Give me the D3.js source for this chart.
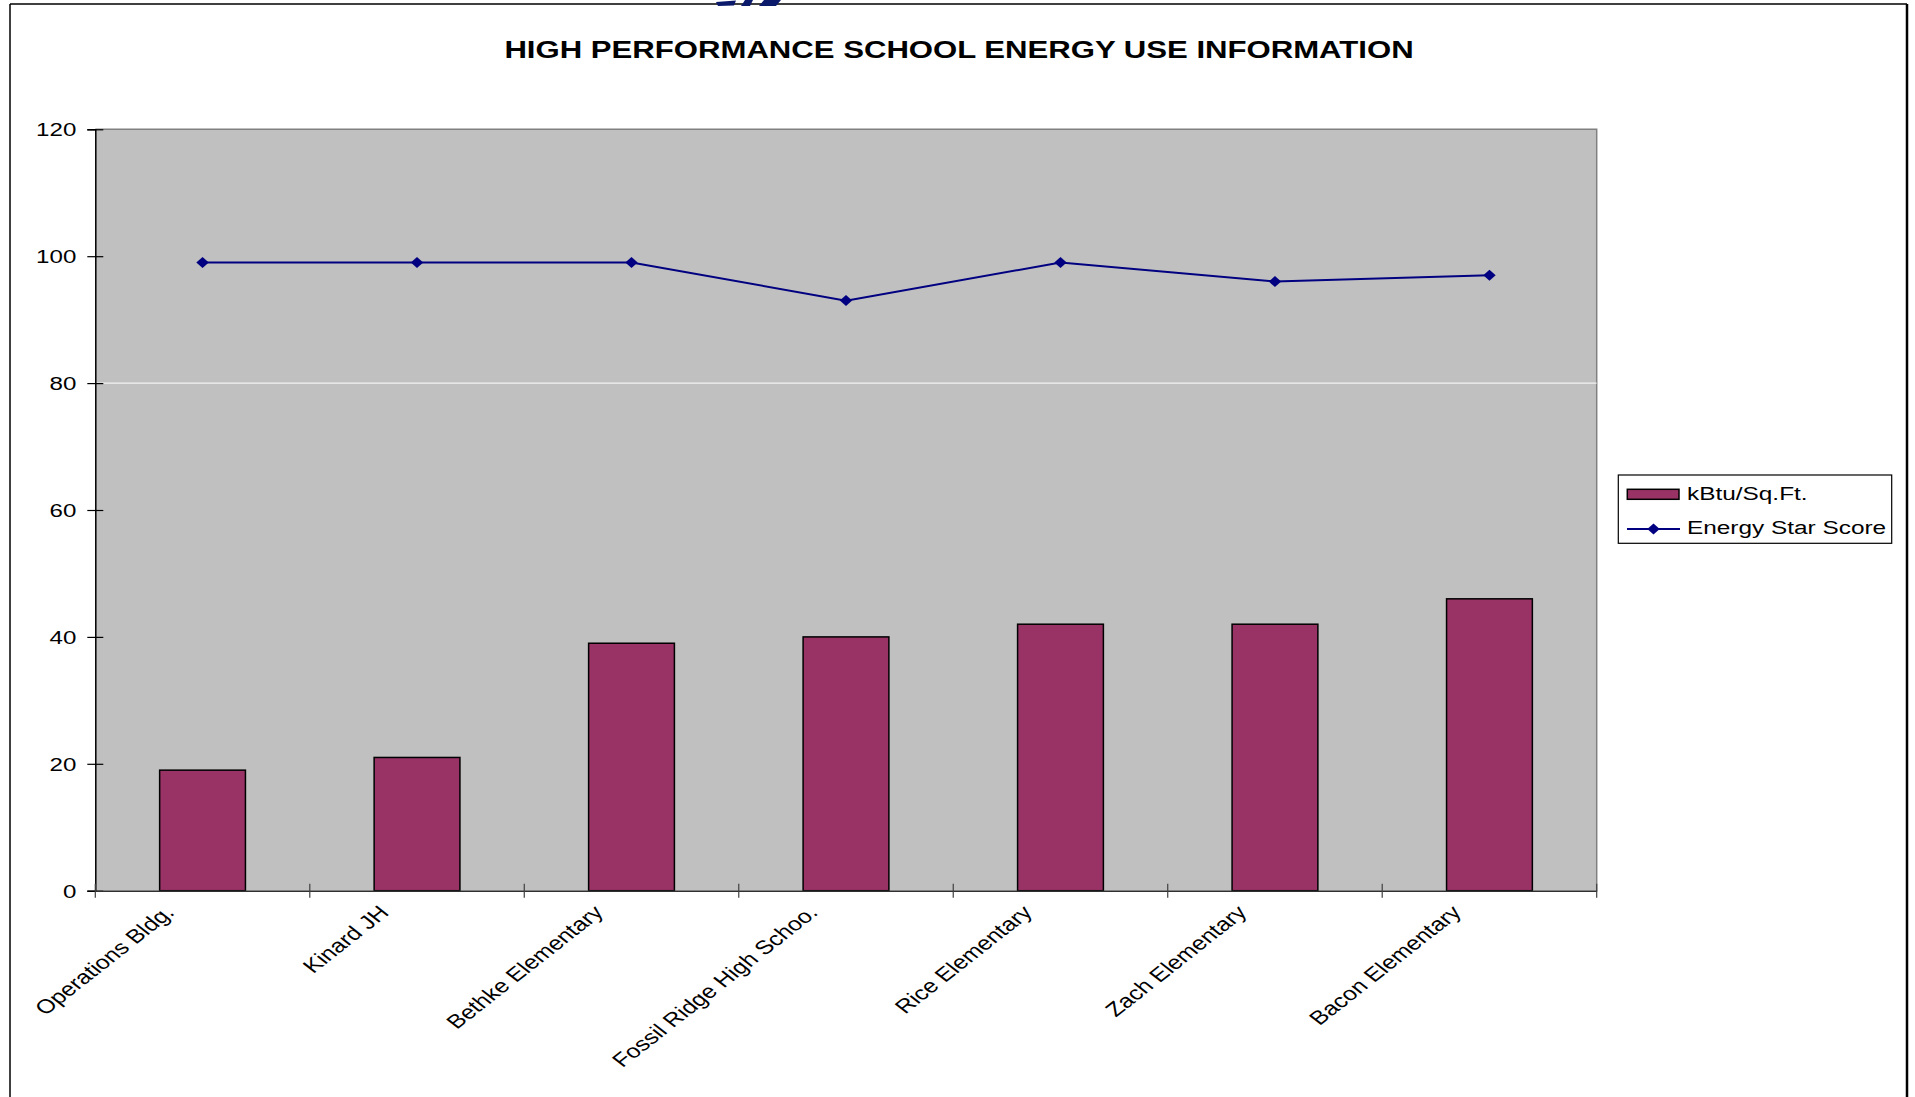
<!DOCTYPE html>
<html>
<head>
<meta charset="utf-8">
<script src="https://cdn.jsdelivr.net/npm/d3@7"></script>
<style>
  html, body { margin: 0; padding: 0; background: #ffffff; }
  svg { display: block; }
  text { font-family: "Liberation Sans", Arial, sans-serif; }
</style>
</head>
<body>
<svg id="chart" width="1915" height="1097"></svg>
<script>
// ---- data ----
const titleText = "HIGH PERFORMANCE SCHOOL ENERGY USE INFORMATION";
const categories = ["Operations Bldg.", "Kinard JH", "Bethke Elementary", "Fossil Ridge High Schoo.",
                    "Rice Elementary", "Zach Elementary", "Bacon Elementary"];
const kbtuValues = [19, 21, 39, 40, 42, 42, 46];
const energyStarValues = [99, 99, 99, 93, 99, 96, 97];
const yTickValues = [0, 20, 40, 60, 80, 100, 120];
const gridValues = [80];
const seriesNames = ["kBtu/Sq.Ft.", "Energy Star Score"];

// ---- layout ----
const W = 1915, H = 1097;
const SX = 1.27; // horizontal stretch of the original picture's text
const plot = { left: 95.3, right: 1596.7, top: 129.3, bottom: 890.7 };
const barColor = "#993366", lineColor = "#000080", plotBg = "#C0C0C0";

const svg = d3.select("#chart");

// outer frame
svg.append("line").attr("x1", 10).attr("x2", 10).attr("y1", 4).attr("y2", H + 5)
  .attr("stroke", "#000").attr("stroke-width", 1.5);
svg.append("line").attr("x1", 10).attr("x2", 1907).attr("y1", 4).attr("y2", 4)
  .attr("stroke", "#000").attr("stroke-width", 1.5);
svg.append("line").attr("x1", 1907).attr("x2", 1907).attr("y1", 4).attr("y2", H + 5)
  .attr("stroke", "#000").attr("stroke-width", 2.5);

// fragment of a logo cut off at the top of the page
const logo = svg.append("g").attr("fill", "#0b1a6b");
logo.append("path").attr("d", "M716,2 L736,0.5 L734,5.5 L718,6 Z");
logo.append("path").attr("d", "M745,0 L753,0 L750,6 L741,6 Z");
logo.append("path").attr("d", "M764,0 L781,0 L776,6 L759,6 Z");

// scales
const x = d3.scaleBand().domain(categories).range([plot.left, plot.right]).padding(0);
const y = d3.scaleLinear().domain([0, 120]).range([plot.bottom, plot.top]);

// plot area
svg.append("rect")
  .attr("x", plot.left).attr("y", plot.top)
  .attr("width", plot.right - plot.left).attr("height", plot.bottom - plot.top)
  .attr("fill", plotBg);
// top/right border of plot area
svg.append("path")
  .attr("d", `M${plot.left},${plot.top} H${plot.right} V${plot.bottom}`)
  .attr("fill", "none").attr("stroke", "#808080").attr("stroke-width", 1.5);

// gridlines
svg.append("g").selectAll("line").data(gridValues).join("line")
  .attr("x1", plot.left).attr("x2", plot.right)
  .attr("y1", d => y(d)).attr("y2", d => y(d))
  .attr("stroke", "#ffffff").attr("stroke-width", 1);

// bars
const barW = x.bandwidth() / 2.5;
svg.append("g").selectAll("rect").data(categories).join("rect")
  .attr("x", d => x(d) + x.bandwidth() / 2 - barW / 2)
  .attr("y", (d, i) => y(kbtuValues[i]))
  .attr("width", barW)
  .attr("height", (d, i) => y(0) - y(kbtuValues[i]))
  .attr("fill", barColor).attr("stroke", "#000").attr("stroke-width", 1.5);

// y axis
const yAxis = svg.append("g")
  .attr("transform", `translate(${plot.left},0)`)
  .call(d3.axisLeft(y).tickValues(yTickValues).tickSize(8).tickPadding(0));
yAxis.select(".domain").attr("stroke", "#000").attr("stroke-width", 1.5);
yAxis.selectAll(".tick line").attr("x1", -8).attr("x2", 8).attr("stroke", "#000").attr("stroke-width", 1.2);
yAxis.selectAll(".tick text")
  .attr("font-size", 19).attr("fill", "#000")
  .attr("font-family", "Liberation Sans, Arial, sans-serif")
  .attr("x", -19 / SX).attr("dy", "0.35em")
  .attr("transform", `scale(${SX},1)`);

// x axis
const xAxis = svg.append("g")
  .attr("transform", `translate(0,${plot.bottom})`)
  .call(d3.axisBottom(x).tickSize(0).tickFormat(""));
xAxis.select(".domain").attr("stroke", "#303030").attr("stroke-width", 1.5);
const boundaries = categories.map(c => x(c)).concat([x.range()[1]]);
svg.append("g").selectAll("line").data(boundaries).join("line")
  .attr("x1", d => d).attr("x2", d => d)
  .attr("y1", plot.bottom - 7).attr("y2", plot.bottom + 7)
  .attr("stroke", "#404040").attr("stroke-width", 1.2);
svg.append("g").selectAll("text").data(categories).join("text")
  .attr("transform", d => `translate(${x(d) + x.bandwidth() / 2 - 27},${plot.bottom + 23}) scale(${SX},1) rotate(-45)`)
  .attr("text-anchor", "end")
  .attr("font-size", 19.5).attr("fill", "#000")
  .text(d => d);

// line series
const lineGen = d3.line()
  .x((d, i) => x(categories[i]) + x.bandwidth() / 2)
  .y(d => y(d));
svg.append("path").datum(energyStarValues)
  .attr("d", lineGen).attr("fill", "none")
  .attr("stroke", lineColor).attr("stroke-width", 2);
const diamond = "M0,-5.5 L6.2,0 L0,5.5 L-6.2,0 Z";
svg.append("g").selectAll("path").data(energyStarValues).join("path")
  .attr("transform", (d, i) => `translate(${x(categories[i]) + x.bandwidth() / 2},${y(d)})`)
  .attr("d", diamond).attr("fill", lineColor);

// title
svg.append("text")
  .attr("transform", `translate(959,57.7) scale(${SX},1)`)
  .attr("text-anchor", "middle")
  .attr("font-size", 24.5).attr("font-weight", "bold").attr("fill", "#000")
  .text(titleText);

// legend
const leg = svg.append("g");
leg.append("rect").attr("x", 1618.3).attr("y", 475).attr("width", 273.4).attr("height", 68.3)
  .attr("fill", "#fff").attr("stroke", "#000").attr("stroke-width", 1.2);
leg.append("rect").attr("x", 1627.3).attr("y", 489.3).attr("width", 51.7).attr("height", 10)
  .attr("fill", barColor).attr("stroke", "#000").attr("stroke-width", 1.5);
leg.append("line").attr("x1", 1627).attr("x2", 1680).attr("y1", 529).attr("y2", 529)
  .attr("stroke", lineColor).attr("stroke-width", 2);
leg.append("path").attr("transform", "translate(1653.5,529)").attr("d", diamond).attr("fill", lineColor);
leg.selectAll("text.lg").data(seriesNames).join("text")
  .attr("class", "lg")
  .attr("transform", (d, i) => `translate(1687,${i === 0 ? 500 : 534}) scale(${SX},1)`)
  .attr("font-size", 19.2).attr("fill", "#000")
  .text(d => d);
</script>
</body>
</html>
